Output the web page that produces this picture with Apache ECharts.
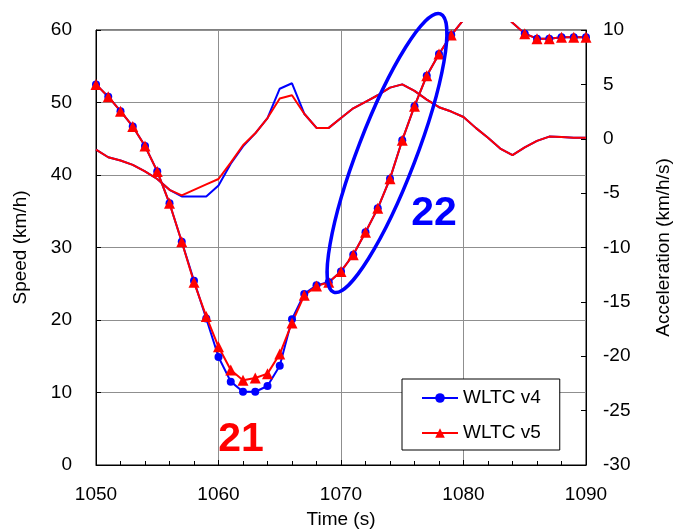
<!DOCTYPE html>
<html>
<head>
<meta charset="utf-8">
<script src="https://cdn.jsdelivr.net/npm/echarts@6/dist/echarts.min.js"></script>
<style>
  html, body { margin: 0; padding: 0; background: #fff; }
  #chart { width: 673px; height: 532px; }
</style>
</head>
<body>
<div id="chart"></div>
<script>
// Time stamps (s)
const times = [1050, 1051, 1052, 1053, 1054, 1055, 1056, 1057, 1058, 1059,
               1060, 1061, 1062, 1063, 1064, 1065, 1066, 1067, 1068, 1069,
               1070, 1071, 1072, 1073, 1074, 1075, 1076, 1077, 1078, 1079,
               1080, 1081, 1082, 1083, 1084, 1085, 1086, 1087, 1088, 1089, 1090];

// Vehicle speed (km/h)
const speedV4 = [52.5, 50.8, 48.8, 46.7, 44.0, 40.5, 36.1, 30.8, 25.4, 20.2,
                 14.9, 11.5, 10.1, 10.1, 10.9, 13.7, 20.1, 23.6, 24.8, 25.2,
                 26.7, 29.0, 32.1, 35.4, 39.5, 44.8, 49.5, 53.7, 56.7, 59.3,
                 61.4, 62.8, 63.2, 62.6, 61.0, 59.5, 58.8, 58.8, 59.0, 59.0, 59.0];
const speedV5 = [52.5, 50.8, 48.8, 46.7, 44.0, 40.5, 36.1, 30.8, 25.2, 20.5,
                 16.3, 13.1, 11.7, 12.0, 12.6, 15.3, 19.6, 23.4, 24.7, 25.2,
                 26.7, 29.0, 32.1, 35.4, 39.5, 44.8, 49.5, 53.7, 56.7, 59.3,
                 61.4, 62.8, 63.2, 62.6, 61.0, 59.5, 58.8, 58.8, 59.0, 59.0, 59.0];

// Acceleration (km/h/s)
const accelV4 = [-1.0, -1.7, -2.0, -2.4, -3.0, -3.7, -4.7, -5.3, -5.3, -5.3,
                 -4.3, -2.3, -0.7, 0.5, 1.9, 4.6, 5.1, 2.3, 1.0, 1.0,
                 1.9, 2.8, 3.4, 4.0, 4.7, 5.0, 4.4, 3.6, 2.9, 2.5,
                 2.0, 1.0, 0.1, -0.9, -1.5, -0.8, -0.2, 0.2, 0.15, 0.1, 0.1];
const accelV5 = [-1.0, -1.7, -2.0, -2.4, -3.0, -3.7, -4.7, -5.2, -4.7, -4.2,
                 -3.7, -2.2, -0.6, 0.5, 1.9, 3.7, 4.0, 2.3, 1.0, 1.0,
                 1.9, 2.8, 3.4, 4.0, 4.7, 5.0, 4.4, 3.6, 2.9, 2.5,
                 2.0, 1.0, 0.1, -0.9, -1.5, -0.8, -0.2, 0.2, 0.15, 0.1, 0.1];

const speedTicks = [0, 10, 20, 30, 40, 50, 60];
const accelTicks = [-30, -25, -20, -15, -10, -5, 0, 5, 10];

const seriesNames = ['WLTC v4', 'WLTC v5'];
const BLUE = '#0000ff';
const RED = '#ff0000';
const FONT = 'Liberation Sans, Arial, sans-serif';

const pairs = (ys) => times.map((t, i) => [t, ys[i]]);

// plot frame geometry (px)
const G = { left: 96, right: 87, top: 30, bottom: 67 };
// speed curves may run a little above the frame before being cut off
const overshoot = 7;
const plotH = 532 - G.top - G.bottom;
const speedMax = speedTicks[speedTicks.length - 1];
const speedClipMax = speedMax * (plotH + overshoot) / plotH;

const chart = echarts.init(document.getElementById('chart'), null, { renderer: 'canvas' });

const gridColor = '#8f8f8f';

chart.setOption({
  animation: false,
  backgroundColor: '#fff',
  textStyle: { fontFamily: FONT },
  grid: [
    { left: G.left, right: G.right, top: G.top, bottom: G.bottom, outerBoundsMode: 'none',
      show: true, borderColor: '#000', borderWidth: 1, backgroundColor: 'transparent' },
    { left: G.left, right: G.right, top: G.top - overshoot, bottom: G.bottom,
      outerBoundsMode: 'none', show: false }
  ],
  xAxis: [
    {
      type: 'value', gridIndex: 0, min: times[0], max: times[times.length - 1], interval: 10,
      name: 'Time (s)', nameLocation: 'middle', nameGap: 45,
      nameTextStyle: { fontSize: 19, color: '#000', fontFamily: FONT },
      axisLine: { lineStyle: { color: '#000', width: 1 } },
      axisTick: { inside: true, length: 5, lineStyle: { color: '#000' } },
      splitLine: { show: true, lineStyle: { color: gridColor, width: 1 } },
      axisLabel: { fontSize: 19, color: '#000', margin: 20, fontFamily: FONT,
                   formatter: (v) => String(v) }
    },
    {
      // minor time ticks every 2 s along the bottom edge
      type: 'value', gridIndex: 1, min: times[0], max: times[times.length - 1], interval: 2,
      axisLine: { show: false },
      axisTick: { show: true, inside: true, length: 4, lineStyle: { color: '#000' } },
      axisLabel: { show: false },
      splitLine: { show: false }
    }
  ],
  yAxis: [
    {
      type: 'value', gridIndex: 0, position: 'left',
      min: speedTicks[0], max: speedMax, interval: 10,
      name: 'Speed (km/h)', nameLocation: 'middle', nameGap: 66, nameRotate: 90,
      nameTextStyle: { fontSize: 19, color: '#000', fontFamily: FONT },
      axisLine: { show: true, lineStyle: { color: '#000', width: 1 } },
      axisTick: { show: true, inside: true, length: 5, lineStyle: { color: '#000' } },
      splitLine: { show: true, lineStyle: { color: gridColor, width: 1 } },
      axisLabel: { fontSize: 19, color: '#000', margin: 24, fontFamily: FONT }
    },
    {
      type: 'value', gridIndex: 0, position: 'right',
      min: accelTicks[0], max: accelTicks[accelTicks.length - 1], interval: 5,
      name: 'Acceleration (km/h/s)', nameLocation: 'middle', nameGap: 68, nameRotate: 90,
      nameTextStyle: { fontSize: 19, color: '#000', fontFamily: FONT },
      axisLine: { show: true, lineStyle: { color: '#000', width: 1 } },
      axisTick: { show: true, inside: true, length: 5, lineStyle: { color: '#000' } },
      splitLine: { show: false },
      axisLabel: { fontSize: 19, color: '#000', margin: 17, fontFamily: FONT }
    },
    {
      type: 'value', gridIndex: 1, min: 0, max: speedClipMax, show: false
    }
  ],
  legend: {
    data: seriesNames,
    orient: 'vertical',
    left: 402, top: 379,
    backgroundColor: '#fff',
    borderColor: '#000', borderWidth: 1, borderRadius: 0,
    padding: [9, 19, 7, 19],
    itemWidth: 36, itemHeight: 12, itemGap: 15,
    textStyle: { fontSize: 19, color: '#000', lineHeight: 20, fontFamily: FONT },
    z: 20
  },
  series: [
    {
      name: 'accel v4', type: 'line', xAxisIndex: 0, yAxisIndex: 1,
      data: pairs(accelV4), showSymbol: false, symbol: 'none',
      lineStyle: { color: BLUE, width: 2 }, itemStyle: { color: BLUE }, z: 2
    },
    {
      name: 'accel v5', type: 'line', xAxisIndex: 0, yAxisIndex: 1,
      data: pairs(accelV5), showSymbol: false, symbol: 'none',
      lineStyle: { color: RED, width: 2 }, itemStyle: { color: RED }, z: 2
    },
    {
      name: seriesNames[0], type: 'line', xAxisIndex: 1, yAxisIndex: 2,
      data: pairs(speedV4), symbol: 'circle', symbolSize: 8, clip: true,
      lineStyle: { color: BLUE, width: 2 }, itemStyle: { color: BLUE }, z: 3
    },
    {
      name: seriesNames[1], type: 'line', xAxisIndex: 1, yAxisIndex: 2,
      data: pairs(speedV5), symbol: 'triangle', symbolSize: 11, clip: true,
      lineStyle: { color: RED, width: 2 }, itemStyle: { color: RED }, z: 3
    }
  ],
  graphic: [
    {
      type: 'ellipse', x: 387, y: 153, rotation: -21 * Math.PI / 180,
      shape: { cx: 0, cy: 0, rx: 29, ry: 149 },
      style: { fill: 'none', stroke: BLUE, lineWidth: 3.5 }, z: 50
    },
    {
      type: 'text', x: 434, y: 214,
      style: { text: '22', fill: BLUE, font: 'bold 41px ' + FONT, textAlign: 'center', textVerticalAlign: 'middle' },
      z: 50
    },
    {
      type: 'text', x: 241, y: 440,
      style: { text: '21', fill: RED, font: 'bold 41px ' + FONT, textAlign: 'center', textVerticalAlign: 'middle' },
      z: 50
    }
  ]
});
</script>
</body>
</html>
